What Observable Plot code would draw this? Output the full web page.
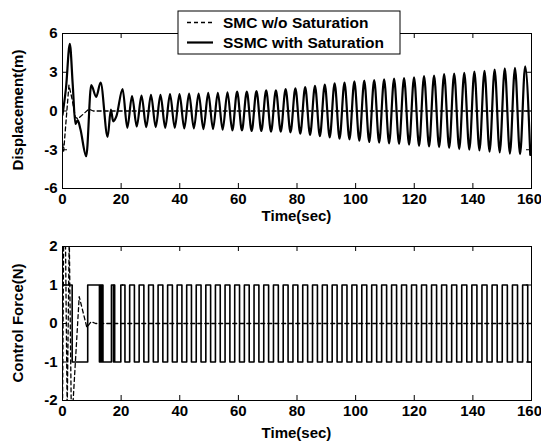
<!DOCTYPE html>
<html><head><meta charset="utf-8">
<script src="https://cdn.jsdelivr.net/npm/d3@7"></script>
<script src="https://cdn.jsdelivr.net/npm/@observablehq/plot@0.6"></script>
<style>
body{margin:0;background:#fff;}
#chart{position:relative;width:541px;height:441px;font-family:"Liberation Sans",Arial,sans-serif;font-weight:bold;}
#chart svg{position:absolute;left:0;overflow:visible;}
</style></head><body><div id="chart"></div>
<script>
// ---- tick labels ----
const timeTicks = [0, 20, 40, 60, 80, 100, 120, 140, 160];
const dispTicks = [-6, -3, 0, 3, 6];
const forceTicks = [-2, -1, 0, 1, 2];
const seriesNames = ["SMC w/o Saturation", "SSMC with Saturation"];
const axisLabels = ["Displacement(m)", "Control Force(N)", "Time(sec)"];

// ---- SMC w/o saturation: displacement (dashed) ----
const smcT = [0, 0.4, 1.2, 2.2, 3.2, 4.4, 5.3, 9.0, 10.5, 160];
const smcX = [-2.5, -3.1, -0.8, 2.0, 1.0, -0.5, -0.6, 0.15, 0, 0];

// ---- SSMC with saturation: displacement, early transient ----
const ssmcEarlyT = [0, 1.2, 2.5, 3.5, 4.4, 5.2, 6.1, 8.1, 9.8, 11.5, 13.0, 15.4, 16.5, 17.3, 18.4];
const ssmcEarlyX = [-0.3, 1.8, 5.2, 2.0, -1.0, -0.7, -1.4, -3.5, 2.0, 1.1, 2.2, -2.0, 0.1, -0.8, -0.4];

// ---- SSMC displacement: peaks and troughs of the sustained oscillation ----
const ssmcExtT = [20.5, 22.11, 23.72, 25.34, 26.95, 28.57, 30.18, 31.80, 33.42, 35.05,
  36.67, 38.30, 39.92, 41.55, 43.18, 44.81, 46.44, 48.08, 49.71, 51.35,
  52.99, 54.64, 56.28, 57.93, 59.57, 61.22, 62.87, 64.52, 66.17, 67.83,
  69.48, 71.14, 72.80, 74.46, 76.12, 77.79, 79.45, 81.12, 82.79, 84.46,
  86.13, 87.81, 89.48, 91.16, 92.84, 94.52, 96.20, 97.89, 99.57, 101.26,
  102.95, 104.64, 106.33, 108.03, 109.72, 111.42, 113.12, 114.82, 116.52, 118.23,
  119.93, 121.64, 123.34, 125.05, 126.76, 128.48, 130.19, 131.91, 133.62, 135.34,
  137.06, 138.79, 140.51, 142.24, 143.96, 145.69, 147.42, 149.16, 150.89, 152.63,
  154.36, 156.10, 157.84, 159.58];
const ssmcExtX = [1.7, -1.3, 1.15, -1.2, 1.2, -1.25, 1.25, -1.25, 1.25, -1.3,
  1.3, -1.3, 1.3, -1.35, 1.35, -1.35, 1.35, -1.4, 1.4, -1.4,
  1.4, -1.45, 1.45, -1.5, 1.5, -1.5, 1.5, -1.55, 1.55, -1.55,
  1.6, -1.6, 1.6, -1.6, 1.7, -1.65, 1.75, -1.75, 1.85, -1.85,
  1.95, -1.95, 2.05, -2.05, 2.15, -2.15, 2.2, -2.2, 2.3, -2.3,
  2.35, -2.4, 2.4, -2.45, 2.45, -2.5, 2.5, -2.55, 2.55, -2.6,
  2.6, -2.7, 2.7, -2.75, 2.75, -2.8, 2.85, -2.85, 2.9, -2.95,
  2.95, -3.0, 3.05, -3.05, 3.1, -3.15, 3.2, -3.2, 3.3, -3.3,
  3.35, -3.35, 3.45, -3.4];

// ---- SMC w/o saturation: control force (dashed) ----
const smcUT = [0, 0.4, 1.0, 1.6, 2.3, 3.0, 3.4, 5.7, 8.3, 9.8, 11.3, 160];
const smcU = [-2.3, 2.3, 2.3, -2.3, 2.3, -2.3, -2.3, 0.7, -0.1, 0.05, 0, 0];

// ---- SSMC control force: early switching instants (value held after each) ----
const ssmcUEarlyT = [0, 3.3, 8.6, 12.6, 12.75, 12.9, 13.05, 13.2, 13.35, 13.5, 13.65, 13.8,
  16.7, 17.4, 17.5, 17.6, 17.7, 17.8, 19.9, 20.5];
const ssmcUEarly = [1, -1, 1, -1, 1, -1, 1, -1, 1, -1, 1, -1,
  1, -1, 1, -1, 1, -1, 1, 1];

// ---- build tables ----
const zip = (t, v) => t.map((d, i) => ({t: d, v: v[i]}));
const dispSMC = zip(smcT, smcX);
const dispSSMC = zip(ssmcEarlyT.concat(ssmcExtT), ssmcEarlyX.concat(ssmcExtX));
const forceSMC = zip(smcUT, smcU);
const forceSSMCEarly = zip(ssmcUEarlyT, ssmcUEarly);
const forceSSMC = zip(ssmcExtT, ssmcExtX.map(Math.sign));

const W = 541, ML = 62, MR = 10;
const font = '"Liberation Sans", Arial, sans-serif';
const fmt = d => String(d);

function panel({height, mt, mb, yDomain, yTicks, marks}) {
  const innerW = W - ML - MR, innerH = height - mt - mb;
  return Plot.plot({
    width: W, height, marginTop: mt, marginBottom: mb, marginLeft: ML, marginRight: MR,
    style: {fontFamily: font, fontWeight: "bold", fontSize: "15px", color: "#000", background: "transparent", overflow: "visible"},
    x: {domain: [0, 160]},
    y: {domain: yDomain},
    marks: [
      ...marks,
      Plot.frame({stroke: "#000", strokeWidth: 1}),
      Plot.tickX(timeTicks, {x: d => d, stroke: "#000", insetTop: innerH - 5}),
      Plot.tickX(timeTicks, {x: d => d, stroke: "#000", insetBottom: innerH - 5}),
      Plot.tickY(yTicks, {y: d => d, stroke: "#000", insetRight: innerW - 5}),
      Plot.tickY(yTicks, {y: d => d, stroke: "#000", insetLeft: innerW - 5}),
      Plot.axisX({ticks: timeTicks.slice(0, -1), tickSize: 0, tickPadding: 5, tickFormat: fmt, label: null, fontSize: 15}),
      Plot.axisX({ticks: timeTicks.slice(-1), tickSize: 0, tickPadding: 5, tickFormat: fmt, label: null, fontSize: 15, dx: -2}),
      Plot.axisY({ticks: yTicks, tickSize: 0, tickPadding: 5, tickFormat: fmt, label: null, fontSize: 15})
    ]
  });
}

const topPlot = panel({
  height: 230, mt: 33, mb: 42, yDomain: [-6, 6], yTicks: dispTicks,
  marks: [
    Plot.line(dispSMC, {x: "t", y: "v", stroke: "#000", strokeWidth: 1.3, strokeDasharray: "4,3", clip: true}),
    Plot.line(dispSSMC, {x: "t", y: "v", stroke: "#000", strokeWidth: 2.2, curve: "monotone-x", clip: true})
  ]
});
const botPlot = panel({
  height: 211, mt: 16, mb: 41, yDomain: [-2, 2], yTicks: forceTicks,
  marks: [
    Plot.line(forceSMC, {x: "t", y: "v", stroke: "#000", strokeWidth: 1.3, strokeDasharray: "4,3", clip: true}),
    Plot.line(forceSSMCEarly, {x: "t", y: "v", stroke: "#000", strokeWidth: 1.6, curve: "step-after", clip: true}),
    Plot.line(forceSSMC, {x: "t", y: "v", stroke: "#000", strokeWidth: 1.6, curve: "step", clip: true})
  ]
});

const chart = document.getElementById("chart");
topPlot.style.top = "0px";
botPlot.style.top = "230px";
chart.appendChild(topPlot);
chart.appendChild(botPlot);

function addLabels(svg, yLabel, yc, xc) {
  const s = d3.select(svg);
  s.append("text").attr("transform", `translate(17,${yc}) rotate(-90)`)
    .attr("text-anchor", "middle").attr("dominant-baseline", "central")
    .attr("font-size", 15).attr("font-weight", "bold").attr("font-family", font).text(yLabel);
  s.append("text").attr("x", 296.5).attr("y", xc)
    .attr("text-anchor", "middle").attr("dominant-baseline", "central")
    .attr("font-size", 15).attr("font-weight", "bold").attr("font-family", font).text(axisLabels[2]);
}
addLabels(topPlot, axisLabels[0], 110, 215);
addLabels(botPlot, axisLabels[1], 93, 202);

// legend
const lg = d3.select(topPlot).append("g").attr("font-family", font).attr("font-weight", "bold")
  .attr("font-size", 15.5).attr("text-anchor", "start");
lg.append("rect").attr("x", 178).attr("y", 11).attr("width", 222).attr("height", 43)
  .attr("fill", "#fff").attr("stroke", "#000");
[["4,3", 1.3, 22.5], [null, 2.2, 42.5]].forEach(([dash, w, y], i) => {
  lg.append("line").attr("x1", 187).attr("x2", 213).attr("y1", y).attr("y2", y)
    .attr("stroke", "#000").attr("stroke-width", w).attr("stroke-dasharray", dash);
  lg.append("text").attr("x", 223).attr("y", y).attr("text-anchor", "start")
    .attr("dominant-baseline", "central").text(seriesNames[i]);
});
</script></body></html>
